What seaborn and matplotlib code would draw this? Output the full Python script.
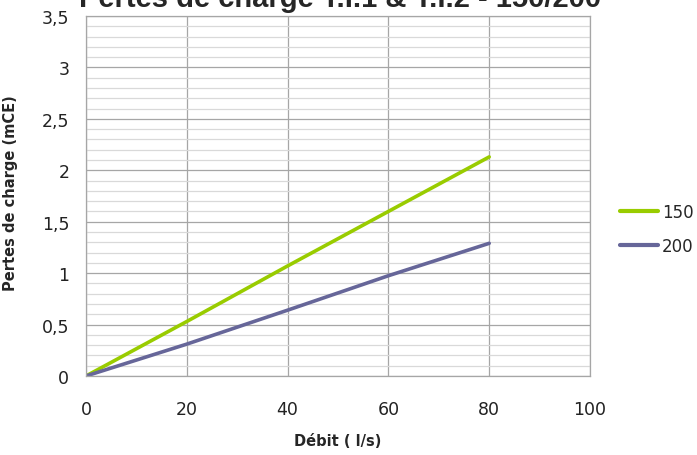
import matplotlib
matplotlib.use("Agg")
import matplotlib.pyplot as plt
import seaborn as sns
import pandas as pd
from matplotlib.ticker import MultipleLocator, FuncFormatter

debit = [0, 20, 40, 60, 80]
pertes_150 = [0, 0.53, 1.07, 1.60, 2.13]
pertes_200 = [0, 0.31, 0.64, 0.975, 1.29]
series = ["150", "200"]
colors = ["#99CC00", "#666699"]

df = pd.DataFrame({
    "Débit": debit * 2,
    "Pertes": pertes_150 + pertes_200,
    "Série": [series[0]] * len(debit) + [series[1]] * len(debit),
})

sns.set_style("white")
plt.rcParams["font.family"] = ["DejaVu Sans"]

fig = plt.figure(figsize=(6.97, 4.56), dpi=100)
ax = fig.add_axes([86 / 697, 79 / 456, 504 / 697, 360 / 456])

sns.lineplot(data=df, x="Débit", y="Pertes", hue="Série", palette=colors,
             linewidth=2.6, ax=ax, legend=True)

ax.set_xlim(0, 100)
ax.set_ylim(0, 3.5)
ax.xaxis.set_major_locator(MultipleLocator(20))
ax.yaxis.set_major_locator(MultipleLocator(0.5))
ax.yaxis.set_minor_locator(MultipleLocator(0.1))
ax.yaxis.set_major_formatter(FuncFormatter(lambda v, p: f"{v:g}".replace(".", ",")))

ax.grid(True, which="major", axis="both", color="#a6a6a6", linewidth=0.9)
ax.grid(True, which="minor", axis="y", color="#d9d9d9", linewidth=0.9)
ax.set_axisbelow(True)
for s in ax.spines.values():
    s.set_color("#a6a6a6")
    s.set_linewidth(0.9)
ax.tick_params(axis="both", which="both", length=0, labelsize=12.5, colors="#222222")
ax.tick_params(axis="x", pad=17)
ax.tick_params(axis="y", pad=12)

ax.set_xlabel("Débit ( l/s)", fontsize=10.5, fontweight="semibold")
ax.xaxis.set_label_coords(0.5, (377 - 434) / 360)
ax.set_ylabel("Pertes de charge (mCE)", fontsize=10.5, fontweight="semibold")
ax.yaxis.set_label_coords((18 - 86) / 504, (377 - 193) / 360)

leg = ax.legend(loc="center left", bbox_to_anchor=(1.03, (377 - 230) / 360), frameon=False,
                fontsize=12, handlelength=2.3, handletextpad=0.2, labelspacing=0.95)
for line in leg.get_lines():
    line.set_linewidth(3)

fig.text(340 / 697, 1 - 7 / 456, "Pertes de charge T.I.1 & T.I.2 - 150/200",
         ha="center", va="baseline", fontsize=21, fontweight="bold",
         family="Liberation Sans")

fig.savefig("out.png", dpi=100)
